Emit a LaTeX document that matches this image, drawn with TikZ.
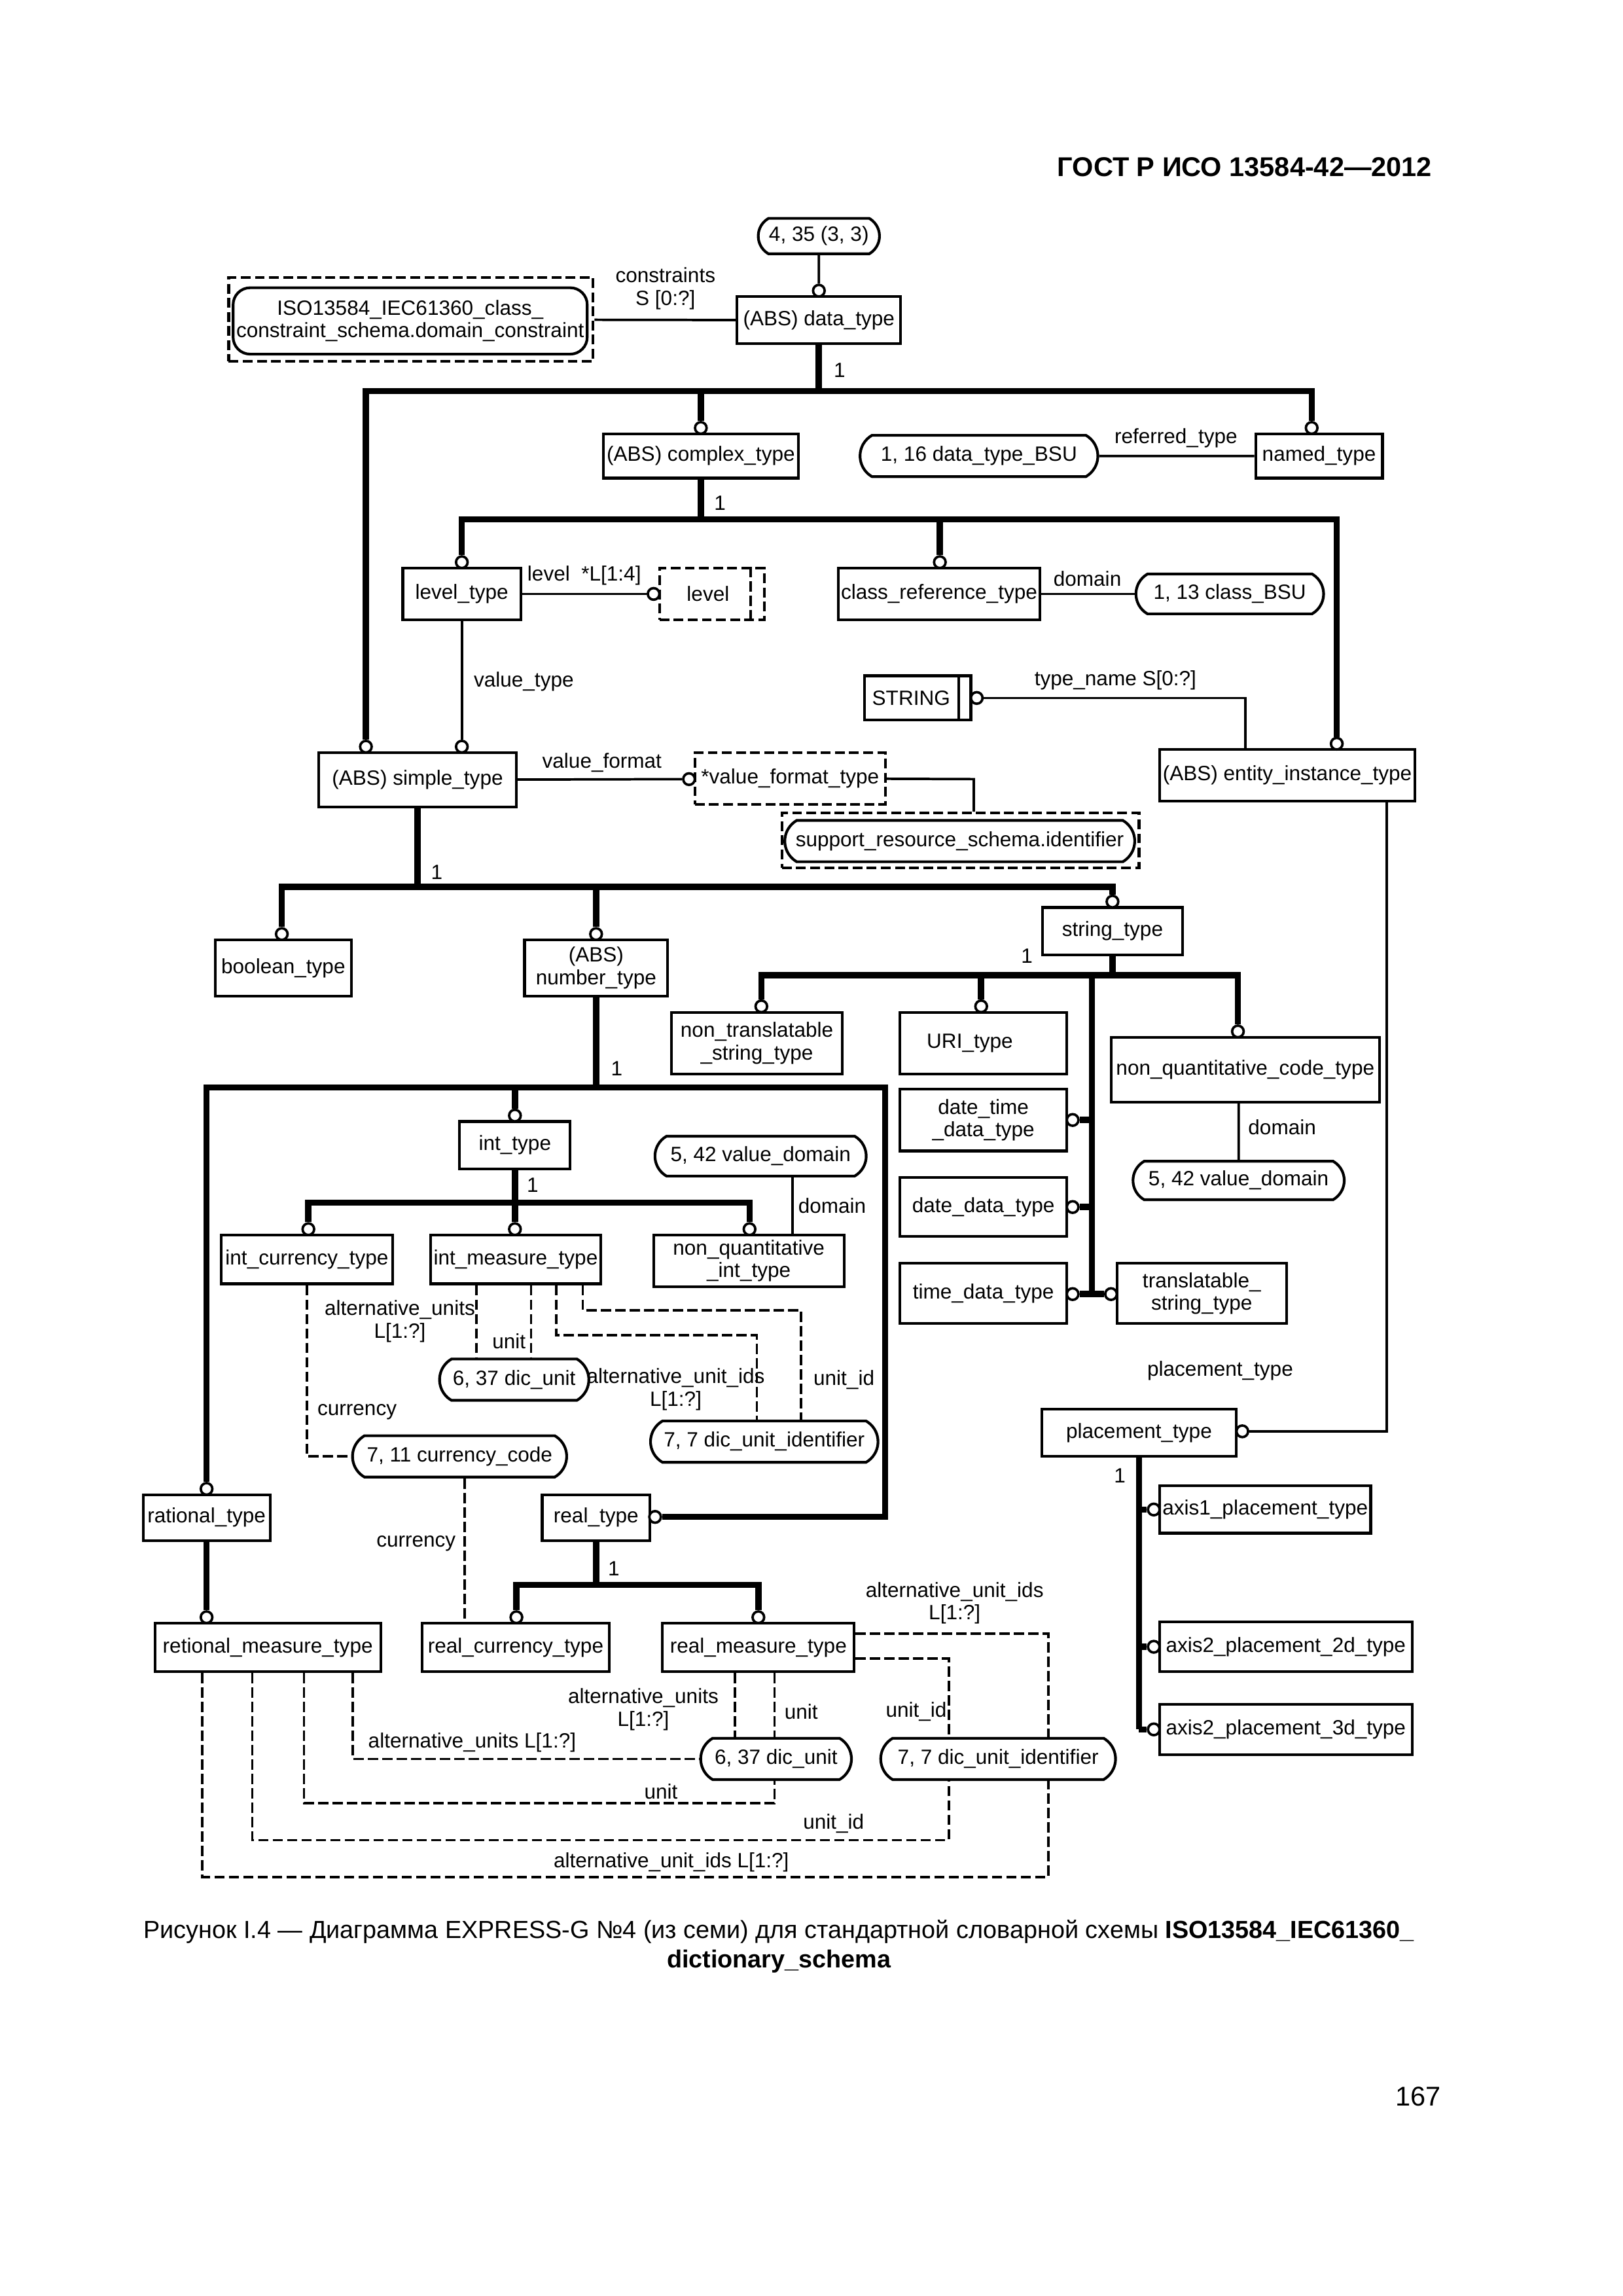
\documentclass[tikz,border=0pt]{standalone}
\usepackage{fontspec}
\setmainfont{Liberation Sans}
\usetikzlibrary{shapes.misc}
\newcommand{\dgfont}{\fontsize{7.6}{8.3}\selectfont}

\begin{document}
\begin{tikzpicture}[x=0.01909cm, y=-0.01909cm, font=\dgfont,
 every edge/.style = {draw, line width=0.9pt},
 sz/.style 2 args = {minimum width=#1*0.01909cm, minimum height=#2*0.01909cm},
 ent/.style 2 args = {rectangle, draw, line width=1pt, inner sep=1pt, align=center, sz={#1}{#2}},
 refb/.style 2 args = {rectangle, draw, line width=1pt, dash pattern=on 3.6pt off 1.6pt, inner sep=1pt, align=center, sz={#1}{#2}},
 pill/.style 2 args = {rounded rectangle, rounded rectangle arc length=120, draw, line width=1pt, inner sep=0.5pt, align=center, sz={#1}{#2}},
 ring/.style = {circle, draw, fill=white, line width=0.9pt, inner sep=0pt, minimum size=0.15cm},
 tree/.style = {draw, line width=2.3pt},
 rel/.style = {draw, line width=0.9pt},
 dsh/.style = {draw, line width=0.9pt, dash pattern=on 3.8pt off 1.5pt},
 lbl/.style = {inner sep=0pt, align=center}]

\fill[white] (0,0) rectangle (1100,1556);
\useasboundingbox (0,0) rectangle (1100,1556);

\node(hdr) [anchor=east, font=\fontsize{10}{12}\selectfont\bfseries] at (977,113) {ГОСТ Р ИСО 13584-42—2012};

% upper part
\node(n435) [pill={84}{24}] at (555,160) {4, 35 (3, 3)};
\node(dtype) [ent={111}{32}] at (555,217) {(ABS) data\_type};
\node(dconb) [refb={247}{57}] at (278.5,216.5) {};
\node(dcon) [rectangle, draw, line width=1pt, rounded corners=0.22cm, inner sep=0.5pt, align=center, sz={240}{45}] at (278,217.5) {ISO13584\_IEC61360\_class\_\\constraint\_schema.domain\_constraint};
\node(cplx) [ent={132}{30}] at (475,309) {(ABS) complex\_type};
\node(dtbsu) [pill={163}{28}] at (663.5,309) {1, 16 data\_type\_BSU};
\node(named) [ent={86}{30}] at (894,309) {named\_type};
\node(lvlt) [ent={80}{35}] at (313,402.5) {level\_type};
\node(lvl) [refb={71}{35}] at (482.5,402.5) {level\hspace*{0.1cm}};
\node(clsr) [ent={135}{35}] at (636.5,402.5) {class\_reference\_type};
\node(clsbsu) [pill={129}{27}] at (833.5,402.5) {1, 13 class\_BSU};
\node(simple) [ent={134}{37}] at (283,528.5) {(ABS) simple\_type};
\node(strg) [ent={72}{30}] at (622,473) {STRING\hspace*{0.17cm}};
\node(entinst) [ent={173}{35}] at (872.5,525.5) {(ABS) entity\_instance\_type};
\node(vft) [refb={129}{35}] at (535.5,527.5) {*value\_format\_type};
\node(supb) [refb={242}{37}] at (651,569.5) {};
\node(sup) [pill={239}{28}] at (650.5,570) {support\_resource\_schema.identifier};

% simple types
\node(bool) [ent={92}{38}] at (192,656) {boolean\_type};
\node(numt) [ent={97}{38}] at (404,656) {(ABS)\\number\_type};
\node(strt) [ent={95}{32}] at (754,631) {string\_type};
\node(nts) [ent={116}{42}] at (513,707) {non\_translatable\\\_string\_type};
\node(uri) [ent={113}{42}] at (666.5,707) {URI\_type\hspace*{0.35cm}};
\node(dtdt) [ent={113}{42}] at (666.5,759) {date\_time\\\_data\_type};
\node(ddt) [ent={113}{40}] at (666.5,818) {date\_data\_type};
\node(tdt) [ent={113}{41}] at (666.5,876.5) {time\_data\_type};
\node(trst) [ent={115}{41}] at (814.5,876.5) {translatable\_\\string\_type};
\node(nqct) [ent={182}{44}] at (844,725) {non\_quantitative\_code\_type};
\node(vd2) [pill={145}{26}] at (839.5,800) {5, 42 value\_domain};
\node(plc) [ent={132}{32}] at (772,971) {placement\_type};
\node(ax1) [ent={143}{32}] at (857.5,1023) {axis1\_placement\_type};
\node(ax2d) [ent={171}{34}] at (871.5,1116) {axis2\_placement\_2d\_type};
\node(ax3d) [ent={171}{34}] at (871.5,1172) {axis2\_placement\_3d\_type};

% number types
\node(intt) [ent={75}{32}] at (349,776) {int\_type};
\node(icur) [ent={116}{33}] at (208,853.5) {int\_currency\_type};
\node(imeas) [ent={115}{33}] at (349.5,853.5) {int\_measure\_type};
\node(nqit) [ent={129}{35}] at (507.5,854.5) {non\_quantitative\\\_int\_type};
\node(vd1) [pill={145}{27}] at (515.5,783.5) {5, 42 value\_domain};
\node(dicu1) [pill={103}{28}] at (348.5,935) {6, 37 dic\_unit};
\node(dui1) [pill={156}{28}] at (518,977) {7, 7 dic\_unit\_identifier};
\node(ccode) [pill={147}{28}] at (311.5,987) {7, 11 currency\_code};
\node(rat) [ent={86}{31}] at (140,1028.5) {rational\_type};
\node(real) [ent={73}{31}] at (404,1028.5) {real\_type};
\node(rmt) [ent={153}{33}] at (181.5,1116.5) {retional\_measure\_type};
\node(rct) [ent={127}{33}] at (349.5,1116.5) {real\_currency\_type};
\node(rmeas) [ent={130}{33}] at (514,1116.5) {real\_measure\_type};
\node(dicu2) [pill={104}{28}] at (526,1192) {6, 37 dic\_unit};
\node(dui2) [pill={161}{28}] at (676.5,1192) {7, 7 dic\_unit\_identifier};

% inner lines of STRING and level
\draw[line width=1pt] ([shift={(-9,0)}]strg.north east) -- ([shift={(-9,0)}]strg.south east);
\draw[dsh, line width=1pt] ([shift={(-10,0)}]lvl.north east) -- ([shift={(-10,0)}]lvl.south east);

% rings
\node(r_dt) [ring] at (555,197) {};
\node(r_cplx) [ring] at (475,290) {};
\node(r_named) [ring] at (889,290) {};
\node(r_sim1) [ring] at (248,506) {};
\node(r_sim2) [ring] at (313,506) {};
\node(r_lvlt) [ring] at (313,381) {};
\node(r_clsr) [ring] at (637,381) {};
\node(r_ent) [ring] at (906,504) {};
\node(r_lvl) [ring] at (443,402.5) {};
\node(r_vft) [ring] at (467,528) {};
\node(r_string) [ring] at (662,473) {};
\node(r_bool) [ring] at (191,633) {};
\node(r_num) [ring] at (404,633) {};
\node(r_str) [ring] at (754,611) {};
\node(r_nts) [ring] at (516,682) {};
\node(r_uri) [ring] at (665,682) {};
\node(r_nqct) [ring] at (839,699) {};
\node(r_dtdt) [ring] at (727,759) {};
\node(r_ddt) [ring] at (727,818) {};
\node(r_tdt) [ring] at (727,877) {};
\node(r_trst) [ring] at (753,877) {};
\node(r_plc) [ring] at (842,970) {};
\node(r_ax1) [ring] at (782,1023) {};
\node(r_ax2d) [ring] at (782,1116) {};
\node(r_ax3d) [ring] at (782,1172) {};
\node(r_int) [ring] at (349,756) {};
\node(r_icur) [ring] at (209,833) {};
\node(r_imeas) [ring] at (349,833) {};
\node(r_nqit) [ring] at (508,833) {};
\node(r_rat) [ring] at (140,1009) {};
\node(r_real) [ring] at (444,1028) {};
\node(r_rmt) [ring] at (140,1096) {};
\node(r_rct) [ring] at (350,1096) {};
\node(r_rmeas) [ring] at (514,1096) {};

% junctions
\coordinate (j_dt) at (555,265);
\coordinate (j_cx) at (475,352);
\coordinate (j_sm) at (283,601);
\coordinate (j_st) at (754,661);
\coordinate (s_tr) at (740,877);
\coordinate (j_nm) at (404,737);
\coordinate (k_re) at (600,1028);
\coordinate (j_in) at (349,815);
\coordinate (j_rl) at (404,1074);
\coordinate (s_pl) at (772,1172);

% supertype trees
\draw[tree] (dtype) -- (j_dt);
\draw[tree] (j_dt) -| (r_sim1);
\draw[tree] (j_dt) -| (r_cplx);
\draw[tree] (j_dt) -| (r_named);
\draw[tree] (cplx) -- (j_cx);
\draw[tree] (j_cx) -| (r_lvlt);
\draw[tree] (j_cx) -| (r_clsr);
\draw[tree] (j_cx) -| (r_ent);
\draw[tree] (simple) -- (j_sm);
\draw[tree] (j_sm) -| (r_bool);
\draw[tree] (j_sm) -| (r_num);
\draw[tree] (j_sm) -| (r_str);
\draw[tree] (strt) -- (j_st);
\draw[tree] (j_st) -| (r_nts);
\draw[tree] (j_st) -| (r_uri);
\draw[tree] (j_st) -| (r_nqct);
\draw[tree] (j_st -| s_tr) -- (s_tr);
\draw[tree] (r_dtdt) -- (r_dtdt -| s_tr);
\draw[tree] (r_ddt) -- (r_ddt -| s_tr);
\draw[tree] (r_tdt) -- (r_trst);
\draw[tree] (numt) -- (j_nm);
\draw[tree] (j_nm) -| (r_rat);
\draw[tree] (j_nm) -| (r_int);
\draw[tree] (j_nm) -| (k_re) -- (r_real);
\draw[tree] (intt) -- (j_in);
\draw[tree] (j_in) -| (r_icur);
\draw[tree] (j_in) -| (r_imeas);
\draw[tree] (j_in) -| (r_nqit);
\draw[tree] (real) -- (j_rl);
\draw[tree] (j_rl) -| (r_rct);
\draw[tree] (j_rl) -| (r_rmeas);
\draw[tree] (rat) -- (r_rmt);
\draw[tree] (plc) -- (s_pl);
\draw[tree] (r_ax1) -- (r_ax1 -| s_pl);
\draw[tree] (r_ax2d) -- (r_ax2d -| s_pl);
\draw[tree] (r_ax3d) -- (r_ax3d -| s_pl);

% attributes
\path   (n435) edge (r_dt)
        (dconb) edge (dtype)
        (dtbsu) edge (named)
        (lvlt) edge (r_lvl)
        (clsr) edge (clsbsu)
        (lvlt) edge (r_sim2)
        (simple) edge (r_vft)
        (nqct.south -| vd2) edge (vd2);
\coordinate (k_tn) at (844,473);
\coordinate (k_vf) at (660,528);
\coordinate (k_dm) at ([shift={(21.5,0)}]vd1.south);
\coordinate (k_pl) at (940,970);
\draw[rel] (r_string) -- (k_tn) -- (k_tn |- entinst.north);
\draw[rel] (vft) -- (k_vf) -- (k_vf |- supb.north);
\draw[rel] (k_dm) -- (k_dm |- nqit.north);
\draw[rel] (entinst.south -| k_pl) -- (k_pl) -- (r_plc);

% dashed attributes
\coordinate (m_au) at ([shift={(-26.5,0)}]imeas.south);
\coordinate (m_un) at ([shift={(10.5,0)}]imeas.south);
\coordinate (m_ai) at ([shift={(27.5,0)}]imeas.south);
\coordinate (m_id) at ([shift={(45.5,0)}]imeas.south);
\coordinate (k_ai) at (513,905);
\coordinate (k_id) at (543,888);
\coordinate (m_cu) at ([shift={(3.5,0)}]ccode.south);
\draw[dsh] (icur) |- (ccode);
\draw[dsh] (m_au) -- (m_au |- dicu1.north);
\draw[dsh] (m_un) -- (m_un |- dicu1.north);
\draw[dsh] (m_ai) |- (k_ai) -- (k_ai |- dui1.north);
\draw[dsh] (m_id) |- (k_id) -- (k_id |- dui1.north);
\draw[dsh] (m_cu) -- (m_cu |- rct.north);

\coordinate (m_rau) at ([shift={(-16,0)}]rmeas.south);
\coordinate (m_run) at ([shift={(11,0)}]rmeas.south);
\coordinate (m_rai) at ([shift={(0,-9.5)}]rmeas.east);
\coordinate (m_rid) at ([shift={(0,7.5)}]rmeas.east);
\coordinate (k_rai) at ([shift={(34,0)}]dui2.north);
\coordinate (k_rid) at ([shift={(-33.5,0)}]dui2.north);
\draw[dsh] (m_rau) -- (m_rau |- dicu2.north);
\draw[dsh] (m_run) -- (m_run |- dicu2.north);
\draw[dsh] (m_rai) -| (k_rai);
\draw[dsh] (m_rid) -| (k_rid);

\coordinate (m_tau) at ([shift={(57.5,0)}]rmt.south);
\coordinate (m_tun) at ([shift={(24.5,0)}]rmt.south);
\coordinate (m_tid) at ([shift={(-10.5,0)}]rmt.south);
\coordinate (m_tai) at ([shift={(-44.5,0)}]rmt.south);
\coordinate (q_tun) at (525,1222);
\coordinate (q_tid) at (643,1247);
\coordinate (q_tai) at (710.5,1272);
\draw[dsh] (m_tau) |- (dicu2);
\draw[dsh] (m_tun) |- (q_tun) -- (q_tun |- dicu2.south);
\draw[dsh] (m_tid) |- (q_tid) -- (q_tid |- dui2.south);
\draw[dsh] (m_tai) |- (q_tai) -- (q_tai |- dui2.south);

% labels
\node(l_cons) [lbl] at (451,195.5) {constraints\\S [0:?]};
\node(l_one1) [lbl] at (569,251) {1};
\node(l_ref) [lbl] at (797,297) {referred\_type};
\node(l_one2) [lbl] at (488,341) {1};
\node(l_lvl) [lbl] at (396,390) {level\ \ *L[1:4]};
\node(l_dom1) [lbl] at (737,392) {domain};
\node(l_vt) [lbl] at (355,462) {value\_type};
\node(l_tn) [lbl] at (756,461) {type\_name S[0:?]};
\node(l_vf) [lbl] at (408,517) {value\_format};
\node(l_one3) [lbl] at (296,591) {1};
\node(l_one4) [lbl] at (696,648) {1};
\node(l_one5) [lbl] at (418,724) {1};
\node(l_dom2) [lbl] at (869,764) {domain};
\node(l_one6) [lbl] at (361,803) {1};
\node(l_dom3) [lbl] at (564,817) {domain};
\node(l_au1) [lbl] at (271,895.5) {alternative\_units\\L[1:?]};
\node(l_un1) [lbl] at (345,909) {unit};
\node(l_ai1) [lbl] at (458,941.5) {alternative\_unit\_ids\\L[1:?]};
\node(l_id1) [lbl] at (572,935) {unit\_id};
\node(l_cu1) [lbl] at (242,957) {currency};
\node(l_pl) [lbl] at (827,929) {placement\_type};
\node(l_one7) [lbl] at (759,1000) {1};
\node(l_cu2) [lbl] at (282,1046) {currency};
\node(l_one8) [lbl] at (416,1063) {1};
\node(l_ai2) [lbl] at (647,1086.5) {alternative\_unit\_ids\\L[1:?]};
\node(l_au2) [lbl] at (436,1158.5) {alternative\_units\\L[1:?]};
\node(l_un2) [lbl] at (543,1160) {unit};
\node(l_id2) [lbl] at (621,1160) {unit\_id};
\node(l_au3) [lbl] at (320,1181) {alternative\_units L[1:?]};
\node(l_un3) [lbl] at (448,1214) {unit};
\node(l_id3) [lbl] at (565,1236) {unit\_id};
\node(l_ai3) [lbl] at (455,1262) {alternative\_unit\_ids L[1:?]};

% caption
\node(cap) [lbl, font=\fontsize{9.1}{10.8}\selectfont] at (528,1319) {Рисунок I.4 — Диаграмма EXPRESS-G №4 (из семи) для стандартной словарной схемы \textbf{ISO13584\_IEC61360\_}\\\textbf{dictionary\_schema}};
\node(pgno) [lbl, anchor=east, font=\fontsize{10}{12}\selectfont] at (977,1421) {167};

\end{tikzpicture}
\end{document}
